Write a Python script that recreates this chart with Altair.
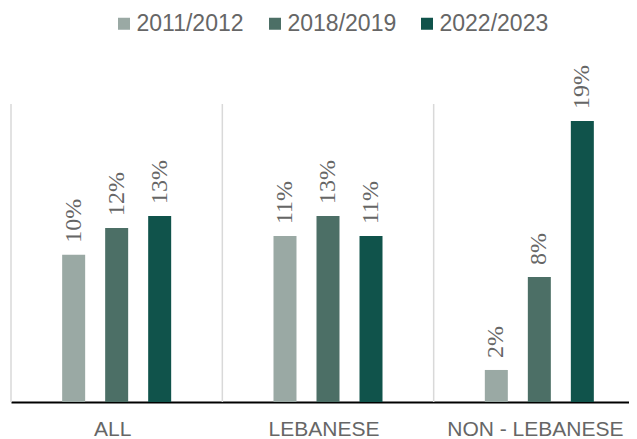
import altair as alt
import pandas as pd

groups = ["ALL", "LEBANESE", "NON - LEBANESE"]
periods = ["2011/2012", "2018/2019", "2022/2023"]
colors = ["#9aa9a4", "#4c6f66", "#10534b"]

# share per group, in period order
val_all = [0.0988, 0.1168, 0.1248]
val_leb = [0.1114, 0.1248, 0.1114]
val_non = [0.0215, 0.0839, 0.1886]
lab_all = ["10%", "12%", "13%"]
lab_leb = ["11%", "13%", "11%"]
lab_non = ["2%", "8%", "19%"]

rows = []
for g, vals, labs in zip(groups, [val_all, val_leb, val_non], [lab_all, lab_leb, lab_non]):
    for p, v, l in zip(periods, vals, labs):
        rows.append({"group": g, "period": p, "value": v, "label": l})
df = pd.DataFrame(rows)
sep = pd.DataFrame({"group": groups})

TXT = "#666666"
FONT = "Liberation Sans"
NARROW = "Liberation Sans Narrow"

xscale = alt.Scale(domain=groups, range=[0, 634], paddingInner=0, paddingOuter=0)
yscale = alt.Scale(domain=[0, 0.2])
xoff = alt.XOffset("period:N", sort=periods,
                   scale=alt.Scale(domain=periods, paddingInner=0, paddingOuter=0.957))

xenc = alt.X("group:N", sort=groups, scale=xscale,
             axis=alt.Axis(title=None, labelAngle=0, labelAlign="center", ticks=False,
                           domainColor="#000000", domainWidth=2, labelFont=FONT,
                           labelFontSize=21, labelColor=TXT, labelPadding=27,
                           labelOffset=-4))

rules = alt.Chart(sep).mark_rule(color="#d9d9d9", strokeWidth=1.5).encode(
    x=alt.X("group:N", sort=groups, scale=xscale, bandPosition=0),
    y=alt.value(0),
    y2=alt.value(298),
)

bars = alt.Chart(df).mark_bar(width=23).encode(
    x=xenc,
    xOffset=xoff,
    y=alt.Y("value:Q", scale=yscale, axis=None),
    color=alt.Color("period:N", sort=periods,
                    scale=alt.Scale(domain=periods, range=colors),
                    legend=alt.Legend(title=None, orient="none", direction="horizontal",
                                      legendX=101.5, legendY=-92,
                                      symbolType="square", symbolSize=144,
                                      symbolStrokeWidth=0, labelFont=FONT,
                                      labelFontSize=23, labelColor=TXT,
                                      labelOffset=1, columnPadding=19)),
)

text = alt.Chart(df).mark_text(angle=270, align="left", baseline="middle", dx=12,
                               font=NARROW, fontSize=24, color=TXT).encode(
    x=alt.X("group:N", sort=groups, scale=xscale),
    xOffset=xoff,
    y=alt.Y("value:Q", scale=yscale),
    text="label:N",
)

chart = alt.layer(rules, bars, text).properties(
    width=618, height=298,
    autosize=alt.AutoSizeParams(type="none"),
    padding={"left": 3, "top": 96, "right": 0, "bottom": 37},
).configure_view(strokeWidth=0)

chart.save("out.html", embed_options={"renderer": "svg", "actions": False})
